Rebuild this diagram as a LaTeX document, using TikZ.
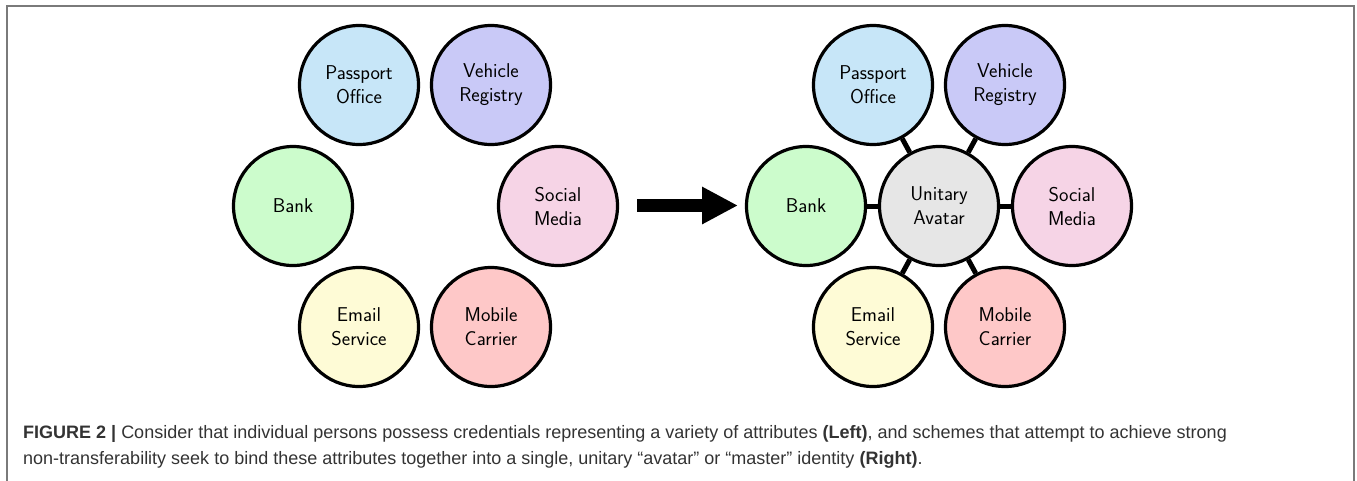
\documentclass[tikz,border=0pt]{standalone}
\usepackage{fontspec}
\newfontfamily\capfont{Liberation Sans}
\usetikzlibrary{arrows.meta}
\definecolor{cPass}{HTML}{C7E6F8}
\definecolor{cVeh}{HTML}{C9C9F7}
\definecolor{cBank}{HTML}{CCFCCC}
\definecolor{cSoc}{HTML}{F6D4E6}
\definecolor{cMail}{HTML}{FEFBD6}
\definecolor{cMob}{HTML}{FEC8C8}
\definecolor{cUni}{HTML}{E6E6E6}
\definecolor{cFrame}{HTML}{7A7A7A}
\definecolor{cCap}{HTML}{333333}
\tikzset{
  attr/.style={circle, draw=black, line width=3.2pt, minimum size=119pt, inner sep=0pt,
    align=center, font=\sffamily\fontsize{20}{24}\selectfont},
  link/.style={line width=5pt},
  captext/.style={anchor=base west, inner sep=0pt, text=cCap, font=\capfont\fontsize{18}{20}\selectfont},
}
\begin{document}
\begin{tikzpicture}[x=1pt,y=-1pt]
\useasboundingbox (0,0) rectangle (1357,480);
\draw[cFrame, line width=1.5pt] (7,482) -- (7,6) -- (1354,6) -- (1354,482);
% left group
\node[attr, fill=cPass] (lp) at (359,85) {Passport\\Office};
\node[attr, fill=cVeh]  (lv) at (491,85) {Vehicle\\Registry};
\node[attr, fill=cBank] (lb) at (293,206) {Bank};
\node[attr, fill=cSoc]  (ls) at (558,206) {Social\\Media};
\node[attr, fill=cMail] (le) at (359,327) {Email\\Service};
\node[attr, fill=cMob]  (lm) at (491,327) {Mobile\\Carrier};
% arrow
\coordinate (a0) at (637,205.5);
\coordinate (a1) at (738,205.5);
\draw[line width=13pt, -{Triangle[length=36pt,width=35pt]}] (a0) -- (a1);
% right group
\node[attr, fill=cUni]  (ru) at (939,206) {Unitary\\Avatar};
\node[attr, fill=cPass] (rp) at (873,85) {Passport\\Office};
\node[attr, fill=cVeh]  (rv) at (1005,85) {Vehicle\\Registry};
\node[attr, fill=cBank] (rb) at (806,206) {Bank};
\node[attr, fill=cSoc]  (rs) at (1072,206) {Social\\Media};
\node[attr, fill=cMail] (re) at (873,327) {Email\\Service};
\node[attr, fill=cMob]  (rm) at (1005,327) {Mobile\\Carrier};
\foreach \t in {rp,rv,rb,rs,re,rm} \draw[link] (ru) -- (\t);
% caption
\node[captext] (cap1) at (23,438) {\textbf{FIGURE 2 |} Consider that individual persons possess credentials representing a variety of attributes \textbf{(Left)}, and schemes that attempt to achieve strong};
\node[captext] (cap2) at (23,464) {non-transferability seek to bind these attributes together into a single, unitary \char"201C avatar\char"201D{} or \char"201C master\char"201D{} identity \textbf{(Right)}.};
\end{tikzpicture}
\end{document}
